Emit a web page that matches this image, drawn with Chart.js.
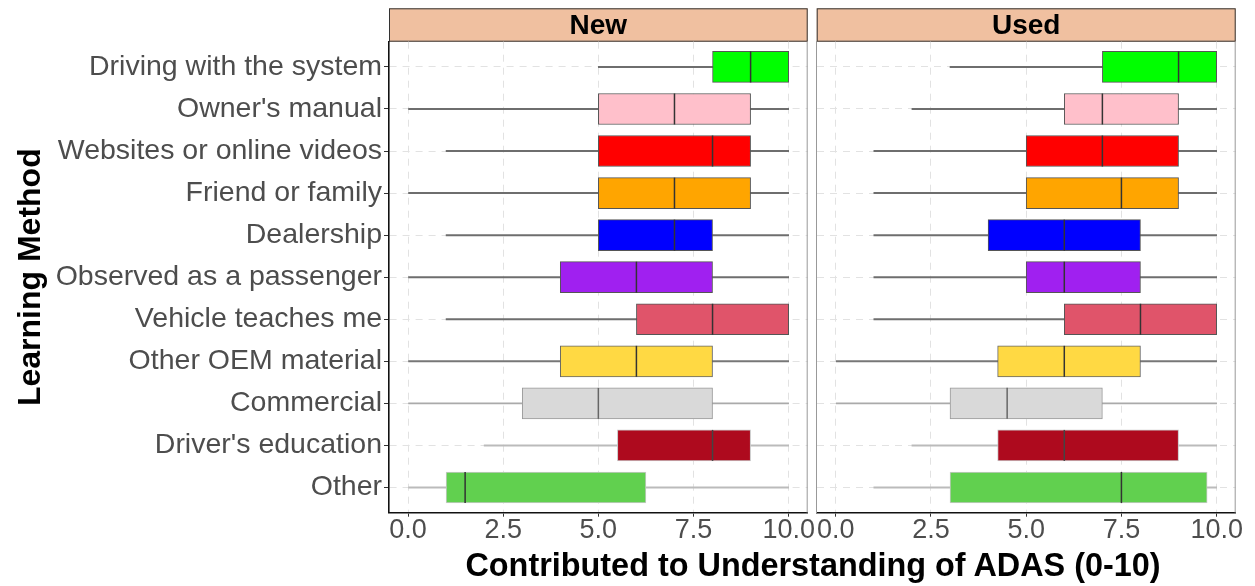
<!DOCTYPE html>
<html>
<head>
<meta charset="utf-8">
<script src="https://cdn.jsdelivr.net/npm/chart.js@4"></script>
<style>
  body { margin: 0; background: #fff; }
  #wrap { position: relative; width: 1255px; height: 586px; background: #fff; overflow: hidden; }
  canvas { position: absolute; top: 0; }
  #xTitle {
    position: absolute; left: 813px; top: 549px; transform: translateX(-50%);
    font: bold 32.4px "Liberation Sans", Arial, sans-serif; line-height: 1; color: #000; white-space: nowrap;
  }
</style>
</head>
<body>
<div id="wrap">
  <canvas id="chartNew" width="832" height="586" style="left:0px"></canvas>
  <canvas id="chartUsed" width="443" height="586" style="left:812px"></canvas>
  <div id="xTitle">Contributed to Understanding of ADAS (0-10)</div>
</div>
<script>
// categorias (de arriba hacia abajo)
const methods = ["Driving with the system", "Owner's manual", "Websites or online videos", "Friend or family",
    "Dealership", "Observed as a passenger", "Vehicle teaches me", "Other OEM material", "Commercial",
    "Driver's education", "Other"];

// panel "New"
const newMin = [5, 0, 1, 0, 1, 0, 1, 0, 0, 2, 0];
const newQ1  = [8, 5, 5, 5, 5, 4, 6, 4, 3, 5.5, 1];
const newMed = [9, 7, 8, 7, 7, 6, 8, 6, 5, 8, 1.5];
const newQ3  = [10, 9, 9, 9, 8, 8, 10, 8, 8, 9, 6.25];
const newMax = [10, 10, 10, 10, 10, 10, 10, 10, 10, 10, 10];

// panel "Used"
const usedMin = [3, 2, 1, 1, 1, 1, 1, 0, 0, 2, 1];
const usedQ1  = [7, 6, 5, 5, 4, 5, 6, 4.25, 3, 4.25, 3];
const usedMed = [9, 7, 7, 7.5, 6, 6, 8, 6, 4.5, 6, 7.5];
const usedQ3  = [10, 9, 9, 9, 8, 8, 10, 8, 7, 9, 9.75];
const usedMax = [10, 10, 10, 10, 10, 10, 10, 10, 10, 10, 10];

const xTicks = [0, 2.5, 5, 7.5, 10];

const fillColors = ["#00FF00", "#FFC0CB", "#FF0000", "#FFA500", "#0000FF", "#A020F0",
    "#E0546A", "#FFD943", "#D9D9D9", "#AE0A1E", "#61D04F"];
const boxBorders = ["#555", "#555", "#555", "#555", "#555", "#555", "#555", "#666", "#999", "#c8c8c8", "#c8c8c8"];
const whiskerColors = ["#6e6e6e", "#6e6e6e", "#6e6e6e", "#6e6e6e", "#6e6e6e", "#6e6e6e", "#6e6e6e", "#777", "#aaa", "#bbb", "#bbb"];
const medianColors = ["#333", "#333", "#333", "#333", "#333", "#333", "#333", "#333", "#666", "#444", "#333"];

const FONT = "'Liberation Sans', Arial, sans-serif";

function makePanel(canvasId, stripText, mins, q1s, meds, q3s, maxs, isLeft) {
    const boxData = methods.map((m, i) => ({ y: i, x: [q1s[i], q3s[i]] }));
    const whiskerData = methods.map((m, i) => ({ y: i, x: [mins[i], maxs[i]] }));

    // tira superior del panel (estilo facet)
    const stripPlugin = {
        id: "strip",
        beforeDraw(chart) {
            const { ctx, chartArea } = chart;
            const h = 33.4;
            ctx.save();
            ctx.fillStyle = "#F0C0A0";
            ctx.fillRect(chartArea.left, chartArea.top - h, chartArea.right - chartArea.left, h);
            ctx.strokeStyle = "#333";
            ctx.lineWidth = 1;
            ctx.strokeRect(chartArea.left + 0.5, chartArea.top - h + 0.5, chartArea.right - chartArea.left - 1, h - 1);
            ctx.fillStyle = "#000";
            ctx.font = "bold 28px " + FONT;
            ctx.textAlign = "center";
            ctx.textBaseline = "middle";
            ctx.fillText(stripText, (chartArea.left + chartArea.right) / 2, chartArea.top - h / 2 + 1);
            ctx.restore();
        },
        afterDraw(chart) {
            const { ctx, chartArea } = chart;
            ctx.save();
            ctx.strokeStyle = "#999";
            ctx.lineWidth = 1;
            ctx.beginPath();
            ctx.moveTo(chartArea.right - 0.5, chartArea.top);
            ctx.lineTo(chartArea.right - 0.5, chartArea.bottom);
            ctx.stroke();
            ctx.restore();
        }
    };

    // lineas de mediana
    const medianPlugin = {
        id: "medians",
        afterDatasetsDraw(chart) {
            const meta = chart.getDatasetMeta(0);
            const xs = chart.scales.x;
            const ctx = chart.ctx;
            ctx.save();
            ctx.lineWidth = 1.5;
            meta.data.forEach((bar, i) => {
                const p = bar.getProps(["y", "height"], true);
                const px = xs.getPixelForValue(meds[i]);
                ctx.strokeStyle = medianColors[i];
                ctx.beginPath();
                ctx.moveTo(px, p.y - p.height / 2);
                ctx.lineTo(px, p.y + p.height / 2);
                ctx.stroke();
            });
            ctx.restore();
        }
    };

    const canvas = document.getElementById(canvasId);
    const padRight = isLeft ? 832 - 807.7 : 443 - 423.7;

    return new Chart(canvas.getContext("2d"), {
        type: "bar",
        data: {
            datasets: [
                {
                    label: "box",
                    data: boxData,
                    backgroundColor: fillColors,
                    borderColor: boxBorders,
                    borderWidth: 1,
                    borderSkipped: false,
                    barThickness: 31,
                    grouped: false,
                    order: 1
                },
                {
                    label: "whisker",
                    data: whiskerData,
                    backgroundColor: whiskerColors,
                    borderWidth: 0,
                    barThickness: 1.3,
                    grouped: false,
                    order: 2
                }
            ]
        },
        options: {
            indexAxis: "y",
            responsive: false,
            animation: false,
            devicePixelRatio: 1,
            layout: { padding: { top: 41.7, right: padRight, left: 0, bottom: 0 } },
            plugins: {
                legend: { display: false },
                tooltip: { enabled: false }
            },
            scales: {
                x: {
                    type: "linear",
                    min: -0.5,
                    max: 10.5,
                    offset: false,
                    afterBuildTicks: s => { s.ticks = xTicks.map(v => ({ value: v })); },
                    afterFit: s => { s.height = 586 - 512.7; },
                    ticks: {
                        callback: v => Number(v).toFixed(1),
                        color: "#4D4D4D",
                        font: { family: FONT, size: 27, lineHeight: 1 },
                        padding: 0,
                        maxRotation: 0
                    },
                    grid: {
                        offset: false,
                        color: "#e2e2e2",
                        lineWidth: 1,
                        tickLength: 4,
                        tickColor: "#333",
                        tickWidth: 1,
                        tickBorderDash: []
                    },
                    border: { display: true, color: "#111", width: 1.6, dash: [7, 6] }
                },
                y: {
                    type: "linear",
                    reverse: true,
                    min: -0.6,
                    max: 10.6,
                    offset: false,
                    afterBuildTicks: s => { s.ticks = methods.map((m, i) => ({ value: i })); },
                    afterFit: s => { s.width = isLeft ? 389 : 4.7; },
                    ticks: {
                        display: isLeft,
                        callback: v => methods[v],
                        color: "#4D4D4D",
                        font: { family: FONT, size: 28.5 },
                        padding: 2,
                        autoSkip: false
                    },
                    grid: {
                        offset: false,
                        color: "#e2e2e2",
                        lineWidth: 1,
                        drawTicks: isLeft,
                        tickLength: isLeft ? 5 : 0,
                        tickColor: "#333",
                        tickWidth: 1,
                        tickBorderDash: []
                    },
                    border: { display: true, color: isLeft ? "#111" : "#999", width: isLeft ? 1.6 : 1, dash: [7, 6] },
                    title: {
                        display: isLeft,
                        text: "Learning Method",
                        color: "#000",
                        font: { family: FONT, size: 32, weight: "bold" },
                        padding: { top: 12, bottom: 0 }
                    }
                }
            }
        },
        plugins: [stripPlugin, medianPlugin]
    });
}

makePanel("chartNew", "New", newMin, newQ1, newMed, newQ3, newMax, true);
makePanel("chartUsed", "Used", usedMin, usedQ1, usedMed, usedQ3, usedMax, false);
</script>
</body>
</html>
